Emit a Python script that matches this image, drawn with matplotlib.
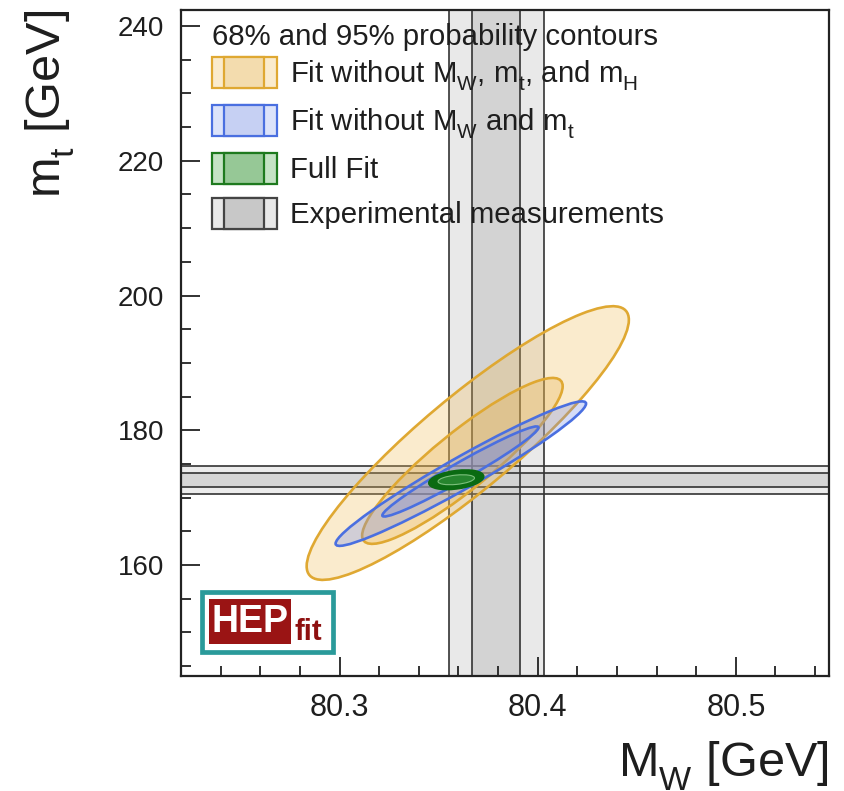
import numpy as np
import matplotlib
matplotlib.use("Agg")
import matplotlib.pyplot as plt
from matplotlib.patches import PathPatch, Rectangle, Patch
from matplotlib.path import Path
from matplotlib.transforms import Affine2D
from matplotlib.legend_handler import HandlerBase
from matplotlib.ticker import MultipleLocator, FormatStrFormatter

plt.rcParams['font.family'] = ['Liberation Sans', 'DejaVu Sans']
plt.rcParams['mathtext.fontset'] = 'custom'
plt.rcParams['mathtext.rm'] = 'Liberation Sans'
plt.rcParams['mathtext.it'] = 'Liberation Sans'
plt.rcParams['mathtext.bf'] = 'Liberation Sans:bold'
try:
    import matplotlib._mathtext as _mt
    _mt.FontConstantsBase.sub1 = 0.55
except Exception:
    pass

# ---------------- data ----------------
# experimental measurements (central value, 1 sigma)
mw_meas = 80.379
mw_err = 0.012
mt_meas = 172.6
mt_err = 1.05

# fits: orange (no MW, mt, mH), blue (no MW, mt), green (full fit)
fit_labels = [r'Fit without $\mathregular{M_W}$, $\mathregular{m_t}$, and $\mathregular{m_H}$',
              r'Fit without $\mathregular{M_W}$ and $\mathregular{m_t}$',
              'Full Fit']
exp_label = 'Experimental measurements'
title_text = '68% and 95% probability contours'

# 95% contours: centre, half extents, correlation
cx_95 = [80.3647, 80.3612, 80.3589]
cy_95 = [178.09, 173.55, 172.64]
hx_95 = [0.0813, 0.0632, 0.0136]
hy_95 = [20.32, 10.73, 1.38]
rho_95 = [0.90, 0.968, 0.35]
# 68% contours
cx_68 = [80.362, 80.361, 80.3589]
cy_68 = [175.44, 173.87, 172.64]
hx_68 = [0.0506, 0.0394, 0.0092]
hy_68 = [12.32, 6.69, 0.74]
rho_68 = [0.90, 0.974, 0.35]

x_ticks_major = 0.1
x_ticks_minor = 0.02
y_ticks_major = 20
y_ticks_minor = 5
xlim = (80.22, 80.547)
ylim = (143.5, 242.4)

# ---------------- styles ----------------
edge_cols = ['#DFA832', '#4A6FE0', '#0B6A12']
fill95 = [(0.94, 0.74, 0.36, 0.30), (0.45, 0.55, 0.92, 0.30), (0.04, 0.42, 0.07, 1.0)]
fill68 = [(0.90, 0.68, 0.26, 0.28), (0.40, 0.50, 0.90, 0.28), (0.15, 0.52, 0.18, 1.0)]
edge68 = ['#DFA832', '#4A6FE0', '#7CC07C']
leg_outer = ['#FAEBCD', '#DCE3FA', '#C5E3C5', '#E8E8E8']
leg_inner = ['#F3DCAE', '#C6D0F3', '#96C896', '#C8C8C8']
leg_edge = ['#DFA832', '#4A6FE0', '#1E7A1E', '#444444']
band_outer = '#E9E9E9'
band_inner = '#D3D3D3'
band_line = '#333333'
text_col = '#1E1E1E'

fig = plt.figure(figsize=(8.44, 7.91), dpi=100)
ax = fig.add_axes([0.2145, 0.1454, 0.7677, 0.8420])
ax.set_xlim(*xlim)
ax.set_ylim(*ylim)

# experimental bands
ax.axvspan(mw_meas - 2 * mw_err, mw_meas + 2 * mw_err, color=band_outer, zorder=1, lw=0)
ax.axvspan(mw_meas - mw_err, mw_meas + mw_err, color=band_inner, zorder=1.1, lw=0)
ax.axhspan(mt_meas - 2 * mt_err, mt_meas + 2 * mt_err, color=band_outer, zorder=1, lw=0, alpha=0.85)
ax.axhspan(mt_meas - mt_err, mt_meas + mt_err, color=band_inner, zorder=1.1, lw=0, alpha=0.85)
for k in (-2, -1, 1, 2):
    ax.axvline(mw_meas + k * mw_err, color=band_line, lw=1.2, zorder=1.5)
    ax.axhline(mt_meas + k * mt_err, color=band_line, lw=1.2, zorder=1.5)


def ellipse(cx, cy, hx, hy, rho, fc, ec, lw, z):
    s = np.sqrt(1 - rho ** 2)
    m = np.array([[hx, 0.0, cx], [hy * rho, hy * s, cy], [0, 0, 1]])
    p = PathPatch(Path.unit_circle(), transform=Affine2D(m) + ax.transData,
                  facecolor=fc, edgecolor=ec, lw=lw, zorder=z)
    ax.add_patch(p)


for i in range(3):
    ellipse(cx_95[i], cy_95[i], hx_95[i], hy_95[i], rho_95[i], fill95[i], edge_cols[i], 1.9, 2 + i)
    ellipse(cx_68[i], cy_68[i], hx_68[i], hy_68[i], rho_68[i], fill68[i], edge68[i],
            1.9 if i < 2 else 0.8, 2.5 + i)

# axes style
ax.xaxis.set_major_locator(MultipleLocator(x_ticks_major))
ax.xaxis.set_minor_locator(MultipleLocator(x_ticks_minor))
ax.yaxis.set_major_locator(MultipleLocator(y_ticks_major))
ax.yaxis.set_minor_locator(MultipleLocator(y_ticks_minor))
ax.xaxis.set_major_formatter(FormatStrFormatter('%.1f'))
ax.yaxis.set_major_formatter(FormatStrFormatter('%d'))
ax.tick_params(which='both', direction='in', top=False, right=False, width=1.3, colors='#222222',
               labelsize=20, labelcolor=text_col)
ax.tick_params(axis='x', labelsize=22)
ax.tick_params(which='major', length=14, pad=12)
ax.tick_params(which='minor', length=7)
for sp in ax.spines.values():
    sp.set_linewidth(1.6)
    sp.set_color('#222222')
    sp.set_zorder(10)

ax.set_xlabel(r'$\mathregular{M_W}$ [GeV]', fontsize=35, loc='right', color=text_col)
ax.set_ylabel(r'$\mathregular{m_t}$ [GeV]', fontsize=35, loc='top', color=text_col)
ax.xaxis.set_label_coords(1.0, -0.095)
ax.yaxis.set_label_coords(-0.16, 1.0)

# legend title
ax.text(0.0478, 0.9474, title_text, transform=ax.transAxes, fontsize=21.2, color=text_col,
        ha='left', va='baseline', zorder=8)


class BandHandler(HandlerBase):
    def __init__(self, outer, inner, edge, frac):
        super().__init__()
        self.outer, self.inner, self.edge, self.frac = outer, inner, edge, frac

    def create_artists(self, legend, orig_handle, xdescent, ydescent, width, height, fontsize, trans):
        h = height * self.frac
        x0, y0 = -xdescent, -ydescent + (height - h) / 2
        r1 = Rectangle((x0, y0), width, h, facecolor=self.outer, edgecolor=self.edge, lw=1.6,
                       transform=trans)
        r2 = Rectangle((x0 + 0.185 * width, y0), 0.615 * width, h, facecolor=self.inner,
                       edgecolor=self.edge, lw=1.6, transform=trans)
        return [r1, r2]


handles = [Patch() for _ in range(4)]
labels = fit_labels + [exp_label]
hmap = {h: BandHandler(leg_outer[i], leg_inner[i], leg_edge[i], 0.86) for i, h in enumerate(handles)}
leg = ax.legend(handles, labels, handler_map=hmap, loc='upper left', bbox_to_anchor=(0.048, 0.9331),
                frameon=False, fontsize=21.2,
                handlelength=2.21, handleheight=1.5, handletextpad=0.44, labelspacing=0.32,
                borderpad=0, borderaxespad=0)
for t in leg.get_texts():
    t.set_color(text_col)
leg.set_zorder(8)

# HEPfit logo
lax = fig.add_axes([0.2390, 0.1761, 0.1552, 0.0759])
lax.set_xlim(0, 1)
lax.set_ylim(0, 1)
lax.axis('off')
lax.add_patch(Rectangle((0, 0), 1, 1, facecolor='white', edgecolor='#2A9A9A', lw=3.4, clip_on=False))
lax.add_patch(Rectangle((0.058, 0.128), 0.621, 0.745, facecolor='#9A1414', edgecolor='none'))
lax.text(0.368, 0.5, 'HEP', color='white', fontsize=27, fontweight='bold', ha='center', va='center')
lax.text(0.705, 0.2, 'fit', color='#8E1010', fontsize=21, fontweight='bold', ha='left', va='baseline')

fig.savefig('out.png', dpi=100)
